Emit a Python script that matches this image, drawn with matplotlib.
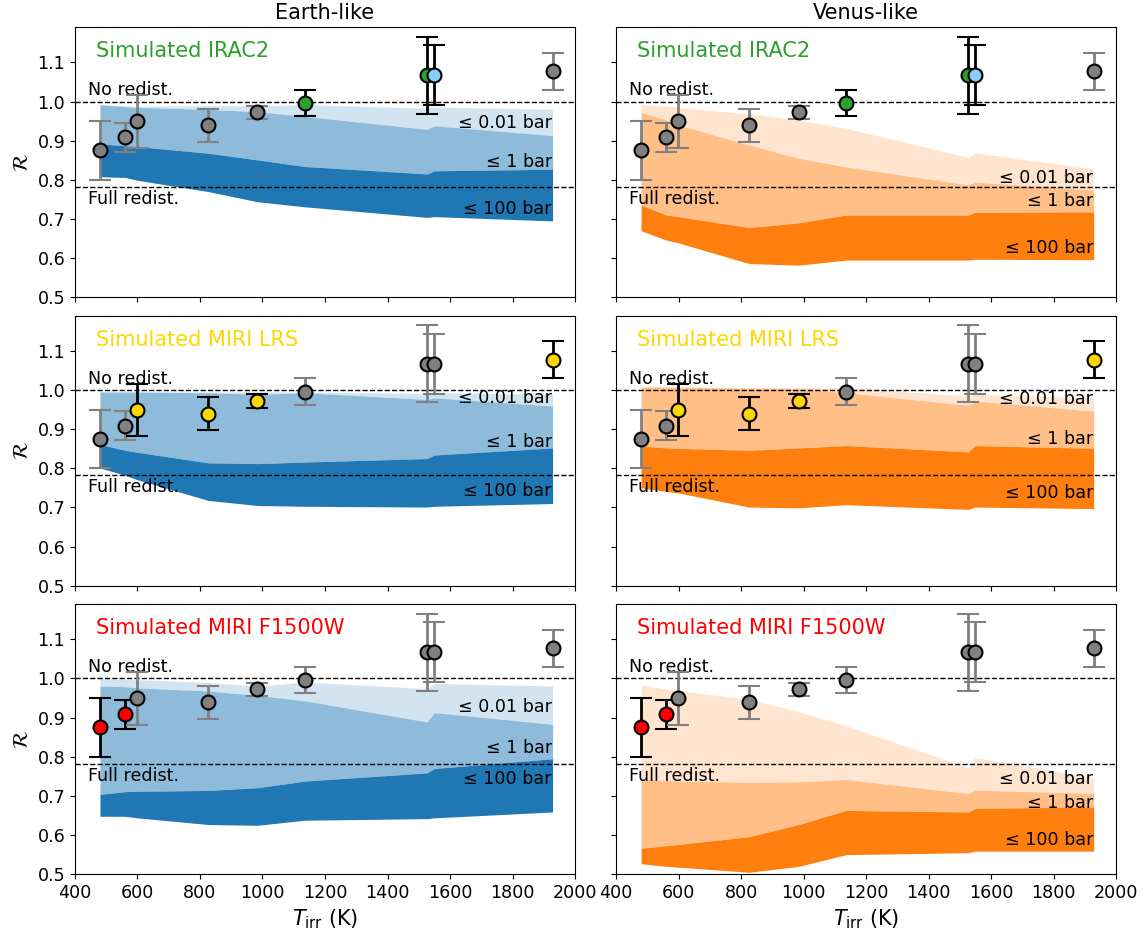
import matplotlib
matplotlib.use("Agg")
import matplotlib.pyplot as plt

plt.rcParams["font.size"] = 12.6

# planets (same in every panel)
t_irr = [480, 561, 599, 826, 984, 1136, 1527, 1549, 1928]
r_obs = [0.875, 0.909, 0.949, 0.939, 0.972, 0.996, 1.067, 1.067, 1.077]
r_err = [0.075, 0.037, 0.067, 0.042, 0.017, 0.034, 0.098, 0.077, 0.047]

# band edges at each t_irr: [top of 0.01 bar, top of 1 bar, top of 100 bar, bottom]
earth_irac2 = [
    [0.992, 0.989, 0.988, 0.989, 0.989, 0.992, 0.983, 0.986, 0.980],
    [0.992, 0.987, 0.985, 0.980, 0.974, 0.962, 0.929, 0.938, 0.913],
    [0.892, 0.887, 0.885, 0.868, 0.851, 0.834, 0.815, 0.823, 0.827],
    [0.808, 0.806, 0.799, 0.770, 0.744, 0.731, 0.704, 0.706, 0.695],
]
venus_irac2 = [
    [0.992, 0.989, 0.985, 0.968, 0.953, 0.932, 0.857, 0.869, 0.828],
    [0.972, 0.953, 0.940, 0.889, 0.855, 0.833, 0.787, 0.794, 0.774],
    [0.735, 0.710, 0.706, 0.678, 0.690, 0.710, 0.710, 0.717, 0.718],
    [0.670, 0.646, 0.639, 0.586, 0.582, 0.595, 0.595, 0.597, 0.596],
]
earth_lrs = [
    [0.995, 0.995, 0.995, 0.995, 0.995, 0.995, 0.991, 0.993, 0.989],
    [0.995, 0.995, 0.995, 0.993, 0.989, 0.993, 0.976, 0.980, 0.959],
    [0.861, 0.846, 0.841, 0.814, 0.812, 0.816, 0.825, 0.834, 0.852],
    [0.801, 0.782, 0.771, 0.718, 0.705, 0.703, 0.701, 0.703, 0.710],
]
venus_lrs = [
    [1.010, 1.008, 1.008, 1.006, 1.006, 1.006, 0.985, 0.989, 0.980],
    [1.008, 1.008, 1.007, 1.005, 1.003, 0.993, 0.961, 0.972, 0.946],
    [0.857, 0.852, 0.851, 0.846, 0.852, 0.858, 0.842, 0.858, 0.851],
    [0.750, 0.741, 0.737, 0.701, 0.699, 0.707, 0.695, 0.701, 0.697],
]
earth_f1500w = [
    [1.000, 0.998, 0.997, 0.990, 0.980, 0.991, 0.974, 0.987, 0.981],
    [0.981, 0.979, 0.976, 0.968, 0.957, 0.943, 0.889, 0.913, 0.883],
    [0.704, 0.711, 0.712, 0.714, 0.721, 0.738, 0.759, 0.770, 0.795],
    [0.648, 0.648, 0.644, 0.627, 0.625, 0.638, 0.642, 0.644, 0.659],
]
venus_f1500w = [
    [0.983, 0.973, 0.969, 0.947, 0.915, 0.879, 0.772, 0.798, 0.747],
    [0.742, 0.740, 0.738, 0.735, 0.736, 0.742, 0.706, 0.715, 0.706],
    [0.566, 0.573, 0.576, 0.596, 0.627, 0.663, 0.659, 0.668, 0.672],
    [0.527, 0.520, 0.518, 0.505, 0.520, 0.550, 0.555, 0.559, 0.559],
]

band_labels = ["≤ 0.01 bar", "≤ 1 bar", "≤ 100 bar"]
instruments = ["Simulated IRAC2", "Simulated MIRI LRS", "Simulated MIRI F1500W"]
inst_colors = ["#2ca02c", "gold", "red"]
# which planets are highlighted for each instrument
highlight = [
    {5: "#2ca02c", 6: "#2ca02c", 7: "lightskyblue"},
    {2: "gold", 3: "gold", 4: "gold", 8: "gold"},
    {0: "red", 1: "red"},
]

no_redist = 1.0
full_redist = 0.7825

blues = ["#d2e4f0", "#8fbbda", "#1f77b4"]
oranges = ["#ffe5cf", "#ffbf87", "#ff7f0e"]

bands = [[earth_irac2, venus_irac2], [earth_lrs, venus_lrs], [earth_f1500w, venus_f1500w]]
# label heights for the three band labels
label_y = [
    [[0.945, 0.845, 0.725], [0.805, 0.746, 0.625]],
    [[0.980, 0.867, 0.743], [0.976, 0.876, 0.737]],
    [[0.926, 0.822, 0.742], [0.742, 0.683, 0.587]],
]


def main():
    fig, axes = plt.subplots(3, 2, figsize=(11.46, 9.36), dpi=100, sharex=True, sharey=True)
    fig.subplots_adjust(left=0.0654, right=0.974, top=0.971, bottom=0.066,
                        wspace=0.082, hspace=0.068)

    for row in range(3):
        for col in range(2):
            ax = axes[row, col]
            edges = bands[row][col]
            cols = blues if col == 0 else oranges
            for k in range(3):
                ax.fill_between(t_irr, edges[k + 1], edges[k], color=cols[k],
                                lw=0, zorder=1)
            for k in range(3):
                ax.text(1926, label_y[row][col][k], band_labels[k],
                        ha="right", va="center", zorder=3)

            ax.axhline(no_redist, color="k", ls="--", lw=1, zorder=2)
            ax.axhline(full_redist, color="k", ls="--", lw=1, zorder=2)
            ax.text(442, no_redist + 0.006, "No redist.", va="bottom", zorder=3)
            ax.text(442, full_redist - 0.008, "Full redist.", va="top", zorder=3)

            ax.text(0.042, 0.91, instruments[row], color=inst_colors[row],
                    fontsize=15, transform=ax.transAxes, va="center")

            for i in range(len(t_irr)):
                if i in highlight[row]:
                    fc, ec = highlight[row][i], "k"
                else:
                    fc, ec = "gray", "gray"
                ax.errorbar(t_irr[i], r_obs[i], yerr=r_err[i], fmt="o", ms=10,
                            mfc=fc, mec="k", mew=1.5, ecolor=ec, elinewidth=2,
                            capsize=8, capthick=2, zorder=5 + i)

            ax.set_xlim(400, 2000)
            ax.set_ylim(0.5, 1.19)
            ax.set_xticks(range(400, 2001, 200))
            ax.set_yticks([0.5, 0.6, 0.7, 0.8, 0.9, 1.0, 1.1])

        axes[row, 0].set_ylabel(r"$\mathcal{R}$", fontsize=15)

    axes[0, 0].set_title("Earth-like", fontsize=15)
    axes[0, 1].set_title("Venus-like", fontsize=15)
    for col in range(2):
        axes[2, col].set_xlabel(r"$T_\mathrm{irr}$ (K)", fontsize=15)

    fig.savefig("out.png", dpi=100)


if __name__ == "__main__":
    main()
